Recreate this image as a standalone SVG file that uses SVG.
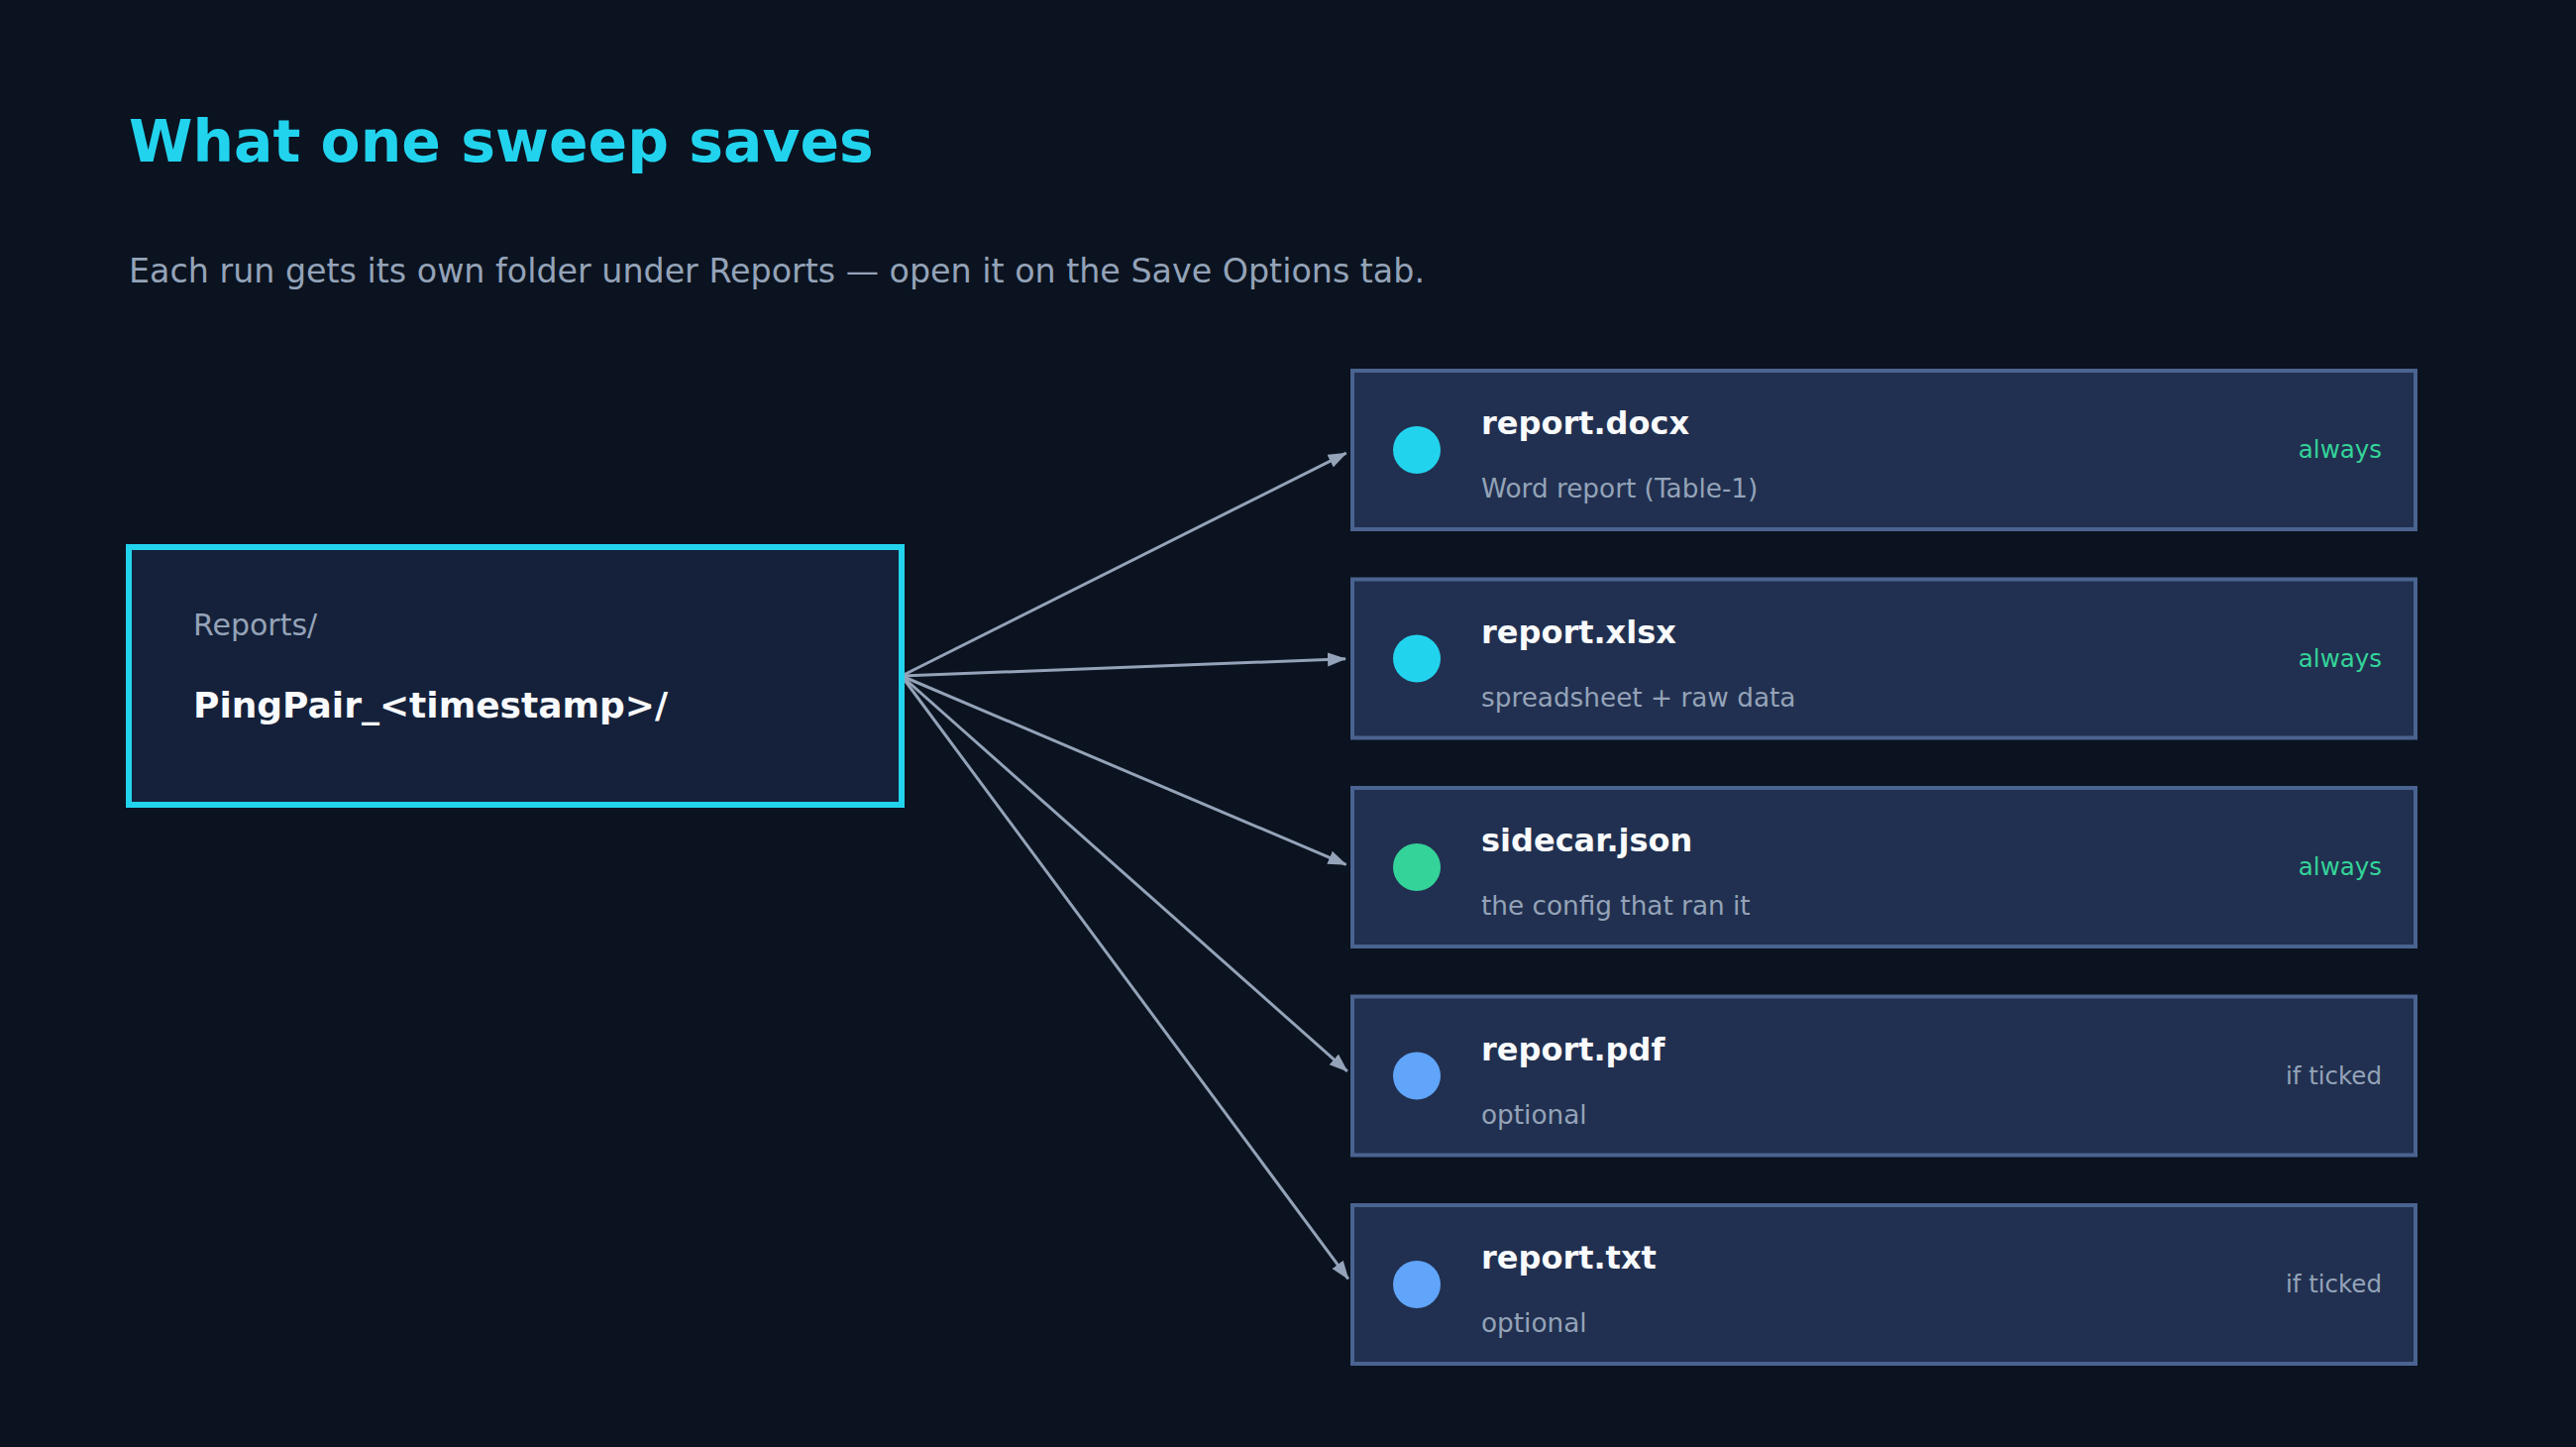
<svg xmlns="http://www.w3.org/2000/svg" width="2600" height="1460" viewBox="0 0 2600 1460">
  <style>
    text { font-family: "DejaVu Sans", Verdana, sans-serif; }
    .title { font-size: 58.4px; font-weight: bold; fill: #22d3ee; }
    .subtitle { font-size: 33.3px; fill: #94a3b8; }
    .src-box { fill: #15213a; stroke: #22d3ee; stroke-width: 6; }
    .src-label { font-size: 30px; fill: #94a3b8; }
    .src-name { font-size: 36px; font-weight: bold; fill: #f8fafc; }
    .box { fill: #213050; stroke: #4a6390; stroke-width: 4; }
    .name { font-size: 32px; font-weight: bold; fill: #f8fafc; }
    .desc { font-size: 26.3px; fill: #94a3b8; }
    .tag { font-size: 24.5px; text-anchor: end; }
    .always { fill: #34d399; }
    .ticked { fill: #94a3b8; }
    .edge { stroke: #94a3b8; stroke-width: 3; fill: none; marker-end: url(#arrow); }
  </style>
  <defs>
    <marker id="arrow" markerUnits="userSpaceOnUse" markerWidth="20" markerHeight="16" refX="18" refY="7" orient="auto">
      <path d="M0,0 L19,7 L0,14 Z" fill="#94a3b8"/>
    </marker>
  </defs>
  <rect x="0" y="0" width="2600" height="1460" fill="#0b1320"/>
  <text class="title" x="130" y="163">What one sweep saves</text>
  <text class="subtitle" x="130" y="285">Each run gets its own folder under Reports — open it on the Save Options tab.</text>

  <g id="connectors">
    <line class="edge" x1="910" y1="682" x2="1358.7" y2="457.1"/>
    <line class="edge" x1="910" y1="682" x2="1358.0" y2="664.8"/>
    <line class="edge" x1="910" y1="682" x2="1358.6" y2="872.3"/>
    <line class="edge" x1="910" y1="682" x2="1359.8" y2="1080.9"/>
    <line class="edge" x1="910" y1="682" x2="1360.8" y2="1290.4"/>
  </g>

  <g id="source">
    <rect class="src-box" x="130" y="552" width="780" height="260"/>
    <text class="src-label" x="195" y="641">Reports/</text>
    <text class="src-name" x="195" y="724">PingPair_&lt;timestamp&gt;/</text>
  </g>

  <g id="docx">
    <rect class="box" x="1365" y="374" width="1073" height="160"/>
    <circle cx="1430" cy="454" r="24" fill="#22d3ee"/>
    <text class="name" x="1495" y="438">report.docx</text>
    <text class="desc" x="1495" y="502">Word report (Table-1)</text>
    <text class="tag always" x="2404" y="462">always</text>
  </g>
  <g id="xlsx">
    <rect class="box" x="1365" y="584.5" width="1073" height="160"/>
    <circle cx="1430" cy="664.5" r="24" fill="#22d3ee"/>
    <text class="name" x="1495" y="648.5">report.xlsx</text>
    <text class="desc" x="1495" y="712.5">spreadsheet + raw data</text>
    <text class="tag always" x="2404" y="672.5">always</text>
  </g>
  <g id="sidecar">
    <rect class="box" x="1365" y="795" width="1073" height="160"/>
    <circle cx="1430" cy="875" r="24" fill="#34d399"/>
    <text class="name" x="1495" y="859">sidecar.json</text>
    <text class="desc" x="1495" y="923">the config that ran it</text>
    <text class="tag always" x="2404" y="883">always</text>
  </g>
  <g id="pdf">
    <rect class="box" x="1365" y="1005.5" width="1073" height="160"/>
    <circle cx="1430" cy="1085.5" r="24" fill="#60a5fa"/>
    <text class="name" x="1495" y="1069.5">report.pdf</text>
    <text class="desc" x="1495" y="1133.5">optional</text>
    <text class="tag ticked" x="2404" y="1093.5">if ticked</text>
  </g>
  <g id="txt">
    <rect class="box" x="1365" y="1216" width="1073" height="160"/>
    <circle cx="1430" cy="1296" r="24" fill="#60a5fa"/>
    <text class="name" x="1495" y="1280">report.txt</text>
    <text class="desc" x="1495" y="1344">optional</text>
    <text class="tag ticked" x="2404" y="1304">if ticked</text>
  </g>
</svg>
